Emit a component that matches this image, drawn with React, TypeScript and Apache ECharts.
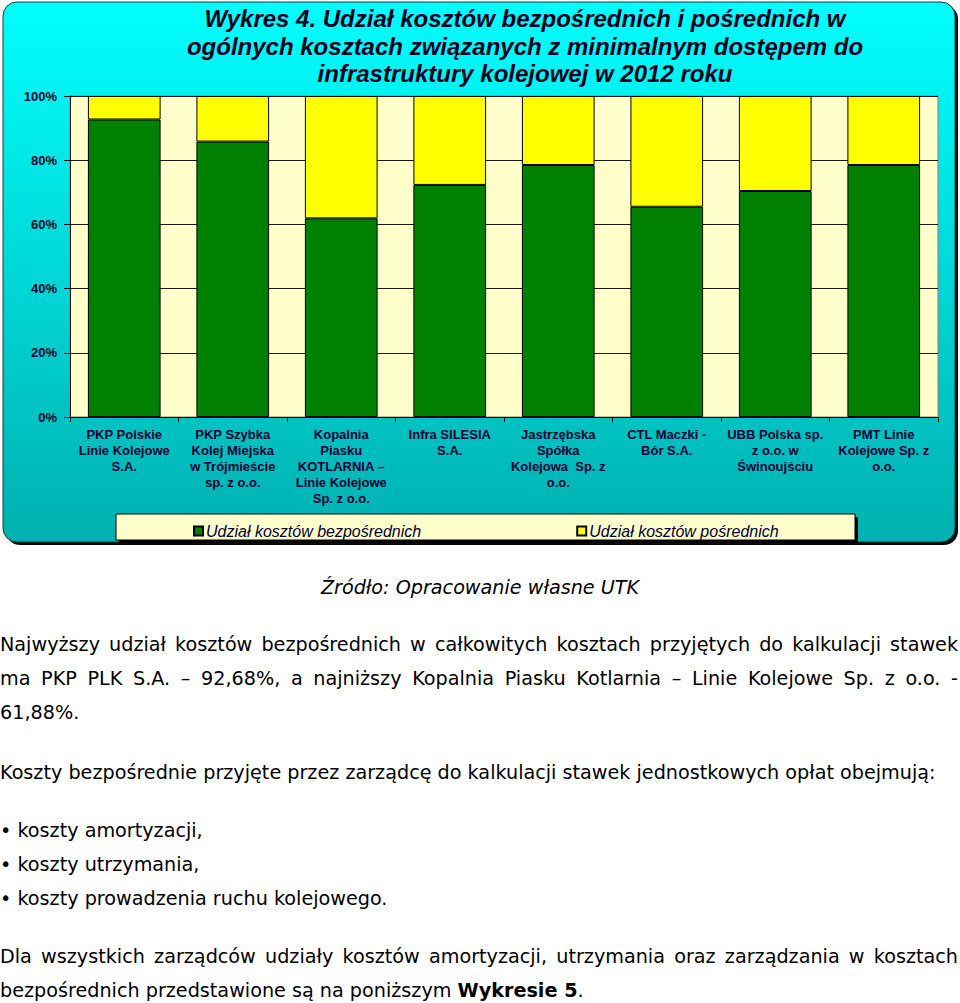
import React, { useEffect, useRef } from "react";
import * as echarts from "echarts";

const categories = [
  "PKP Polskie\nLinie Kolejowe\nS.A.",
  "PKP Szybka\nKolej Miejska\nw Trójmieście\nsp. z o.o.",
  "Kopalnia\nPiasku\nKOTLARNIA –\nLinie Kolejowe\nSp. z o.o.",
  "Infra SILESIA\nS.A.",
  "Jastrzębska\nSpółka\nKolejowa  Sp. z\no.o.",
  "CTL Maczki -\nBór S.A.",
  "UBB Polska sp.\nz o.o. w\nŚwinoujściu",
  "PMT Linie\nKolejowe Sp. z\no.o.",
];
const directShare = [92.68, 85.8, 61.88, 72.3, 78.5, 65.5, 70.4, 78.5];
const indirectShare = [7.32, 14.2, 38.12, 27.7, 21.5, 34.5, 29.6, 21.5];
const seriesNames = ["Udział kosztów bezpośrednich", "Udział kosztów pośrednich"];
const titleText =
  "Wykres 4. Udział kosztów bezpośrednich i pośrednich w\nogólnych kosztach związanych z minimalnym dostępem do\ninfrastruktury kolejowej w 2012 roku";

const navy = "#000033";

function Chart() {
  const ref = useRef<HTMLDivElement>(null);
  useEffect(() => {
    if (!ref.current) return;
    const chart = echarts.init(ref.current, null, { renderer: "svg" });
    chart.setOption({
      animation: false,
      graphic: [
        {
          type: "rect",
          z: -10,
          shape: { x: 6, y: 5, width: 952, height: 540, r: 14 },
          style: { fill: "#0a0a0a" },
          silent: true,
        },
        {
          type: "rect",
          z: -9,
          shape: { x: 3, y: 2, width: 952, height: 540, r: 14 },
          style: {
            fill: new echarts.graphic.LinearGradient(0, 0, 0, 1, [
              { offset: 0, color: "#00FFFF" },
              { offset: 1, color: "#00B0B0" },
            ]),
            stroke: "#1a3a3a",
            lineWidth: 1,
          },
          silent: true,
        },
        {
          type: "text",
          z: 5,
          x: 525,
          y: 5,
          style: {
            text: titleText,
            align: "center",
            verticalAlign: "top",
            fontFamily: "Liberation Sans",
            fontWeight: "bold",
            fontStyle: "italic",
            fontSize: 24,
            lineHeight: 27.5,
            fill: "#000022",
          },
        },
        {
          type: "rect",
          z: -5,
          shape: { x: 119, y: 517, width: 739, height: 26 },
          style: { fill: "#000" },
          silent: true,
        },
        {
          type: "rect",
          z: -4,
          shape: { x: 116, y: 514, width: 739, height: 26 },
          style: { fill: "#FFFFCC", stroke: "#000", lineWidth: 1 },
          silent: true,
        },
      ],
      grid: {
        left: 70,
        right: 22,
        top: 96,
        bottom: 131,
        show: true,
        backgroundColor: "#FFFFCC",
        borderColor: "#808080",
        borderWidth: 1,
      },
      legend: {
        left: 188,
        top: 518,
        itemWidth: 9,
        itemHeight: 9,
        itemGap: 155,
        icon: "rect",
        data: seriesNames,
        textStyle: {
          fontFamily: "Liberation Sans",
          fontStyle: "italic",
          fontSize: 16,
          color: navy,
          padding: [0, 0, 0, -2],
        },
      },
      xAxis: {
        type: "category",
        data: categories,
        axisLine: { show: true, lineStyle: { color: "#000", width: 1 } },
        axisTick: { show: true, length: 5, lineStyle: { color: "#000" } },
        axisLabel: {
          interval: 0,
          margin: 9,
          lineHeight: 16,
          fontFamily: "Liberation Sans",
          fontWeight: "bold",
          fontSize: 13,
          color: navy,
        },
      },
      yAxis: {
        type: "value",
        min: 0,
        max: 100,
        interval: 20,
        axisLine: { show: true, lineStyle: { color: "#000", width: 1 } },
        axisTick: { show: true, length: 6, lineStyle: { color: "#000" } },
        axisLabel: {
          formatter: "{value}%",
          margin: 13,
          fontFamily: "Liberation Sans",
          fontWeight: "bold",
          fontSize: 13,
          color: navy,
        },
        splitLine: { show: true, lineStyle: { color: "#1a1a1a", width: 1 } },
      },
      series: [
        {
          name: seriesNames[0],
          type: "bar",
          stack: "total",
          barCategoryGap: "33%",
          data: directShare,
          itemStyle: { color: "#008000", borderColor: "#000", borderWidth: 1 },
        },
        {
          name: seriesNames[1],
          type: "bar",
          stack: "total",
          barCategoryGap: "33%",
          data: indirectShare,
          itemStyle: { color: "#FFFF00", borderColor: "#000", borderWidth: 1 },
        },
      ],
    });
    return () => chart.dispose();
  }, []);
  return <div ref={ref} style={{ position: "absolute", left: 0, top: 0, width: 960, height: 548 }} />;
}

const textStyle: React.CSSProperties = {
  position: "absolute",
  left: 0,
  margin: 0,
  fontFamily: "DejaVu Sans",
  fontSize: 19.2,
  lineHeight: "34px",
  height: 34,
  color: "#000",
  whiteSpace: "nowrap",
};

const justified: React.CSSProperties = {
  ...textStyle,
  width: 958,
  whiteSpace: "normal",
  textAlign: "justify",
  textAlignLast: "justify",
};

export default function App() {
  useEffect(() => {
    document.body.style.margin = "0";
  }, []);
  return (
    <div style={{ position: "relative", width: 960, height: 1003, overflow: "hidden", background: "#fff" }}>
      <Chart />
      <div style={{ ...textStyle, top: 571, width: 960, textAlign: "center", fontStyle: "italic" }}>
        Źródło: Opracowanie własne UTK
      </div>
      <div style={{ ...justified, top: 628 }}>
        Najwyższy udział kosztów bezpośrednich w całkowitych kosztach przyjętych do kalkulacji stawek
      </div>
      <div style={{ ...justified, top: 662 }}>
        ma PKP PLK S.A. – 92,68%, a najniższy Kopalnia Piasku Kotlarnia – Linie Kolejowe Sp. z o.o. -
      </div>
      <div style={{ ...textStyle, top: 696 }}>61,88%.</div>
      <div style={{ ...textStyle, top: 756 }}>
        Koszty bezpośrednie przyjęte przez zarządcę do kalkulacji stawek jednostkowych opłat obejmują:
      </div>
      <div style={{ ...textStyle, top: 814 }}>• koszty amortyzacji,</div>
      <div style={{ ...textStyle, top: 848 }}>• koszty utrzymania,</div>
      <div style={{ ...textStyle, top: 882 }}>• koszty prowadzenia ruchu kolejowego.</div>
      <div style={{ ...justified, top: 940 }}>
        Dla wszystkich zarządców udziały kosztów amortyzacji, utrzymania oraz zarządzania w kosztach
      </div>
      <div style={{ ...textStyle, top: 974 }}>
        bezpośrednich przedstawione są na poniższym <b>Wykresie 5</b>.
      </div>
    </div>
  );
}
